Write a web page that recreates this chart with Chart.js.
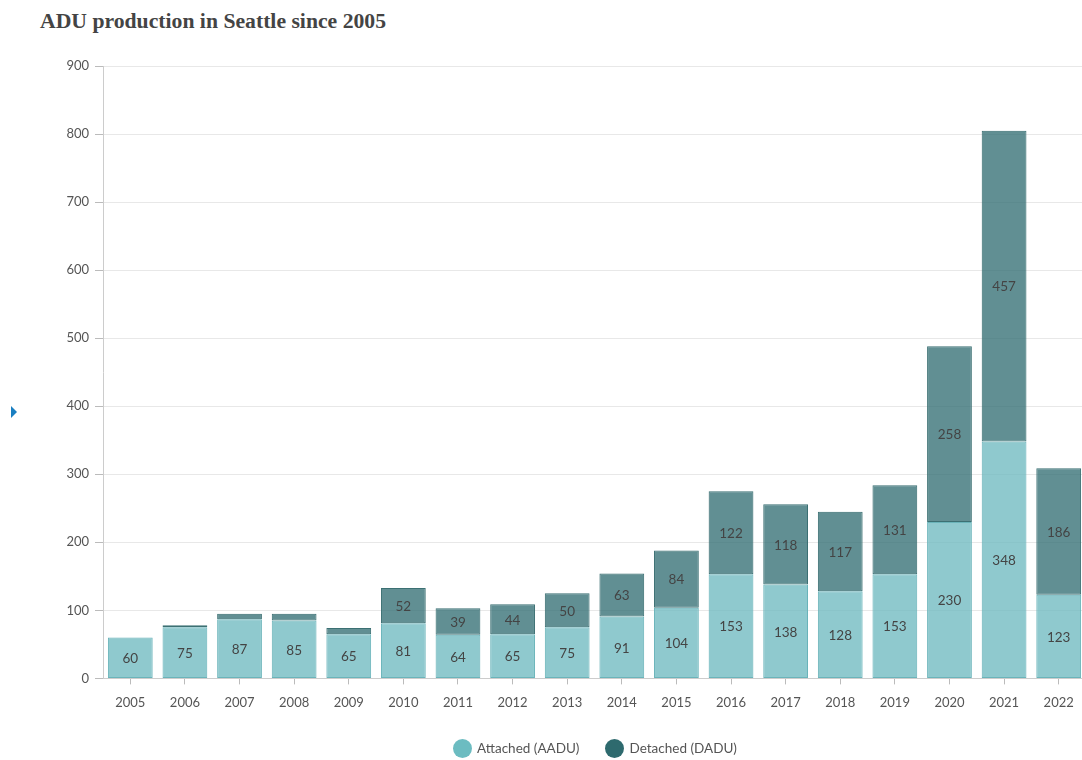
<!DOCTYPE html>
<html>
<head>
<meta charset="utf-8">
<script src="https://cdn.jsdelivr.net/npm/chart.js@4"></script>
<style>
  html, body { margin: 0; padding: 0; background: #fff; overflow: hidden; }
  #title {
    position: absolute; left: 40px; top: 9px;
    font-family: "Liberation Serif", "DejaVu Serif", serif;
    font-weight: bold; font-size: 21.7px; color: #444;
  }
  #marker {
    position: absolute; left: 11px; top: 406px;
    width: 0; height: 0;
    border-top: 6px solid transparent; border-bottom: 6px solid transparent;
    border-left: 6px solid #1a7fc1;
  }
  #wrap { position: absolute; left: 0; top: 48px; width: 1086px; height: 712px; }
  #legend {
    position: absolute; left: 453px; top: 740px;
    font-family: Lato, "Noto Sans", sans-serif; font-size: 13.5px; color: #555;
    white-space: nowrap;
  }
  #legend span.item { display: inline-block; margin-right: 26px; }
  #legend i {
    display: inline-block; width: 19px; height: 19px; border-radius: 50%;
    vertical-align: middle; margin-right: 5px; position: relative; top: -1px;
  }
</style>
</head>
<body>
<div id="title">ADU production in Seattle since 2005</div>
<div id="marker"></div>
<div id="wrap"><canvas id="chart"></canvas></div>
<div id="legend"></div>
<script>
// Chart data
var years = ['2005', '2006', '2007', '2008', '2009', '2010', '2011', '2012', '2013',
  '2014', '2015', '2016', '2017', '2018', '2019', '2020', '2021', '2022'];
var attached = [60, 75, 87, 85, 65, 81, 64, 65, 75, 91, 104, 153, 138, 128, 153, 230, 348, 123];
var detached = [0, 3, 8, 10, 9, 52, 39, 44, 50, 63, 84, 122, 118, 117, 131, 258, 457, 186];
var yTicks = [0, 100, 200, 300, 400, 500, 600, 700, 800, 900];
var seriesNames = ['Attached (AADU)', 'Detached (DADU)'];
var legendColors = ['#6cbcc1', '#2e6a6e'];

var fontFamily = 'Lato, "Noto Sans", sans-serif';

// Draws the value in the middle of each bar segment
var valueLabels = {
  id: 'valueLabels',
  afterDatasetsDraw: function (chart) {
    var ctx = chart.ctx;
    ctx.save();
    ctx.font = '13.5px ' + fontFamily;
    ctx.fillStyle = '#444';
    ctx.textAlign = 'center';
    ctx.textBaseline = 'middle';
    chart.data.datasets.forEach(function (ds, i) {
      var meta = chart.getDatasetMeta(i);
      meta.data.forEach(function (bar, j) {
        var v = ds.data[j];
        if (v < 20) return;
        ctx.fillText(v, bar.x, (bar.y + bar.base) / 2 + 1);
      });
    });
    ctx.restore();
  }
};

// Legend as plain html so it can sit under the plot area
var legendBox = document.getElementById('legend');
seriesNames.forEach(function (name, i) {
  var item = document.createElement('span');
  item.className = 'item';
  item.innerHTML = '<i style="background:' + legendColors[i] + '"></i>' + name;
  legendBox.appendChild(item);
});

var ctx = document.getElementById('chart').getContext('2d');
new Chart(ctx, {
  type: 'bar',
  data: {
    labels: years,
    datasets: [
      {
        label: seriesNames[0],
        data: attached,
        backgroundColor: 'rgba(112, 186, 192, 0.78)',
        borderColor: '#6ab4ba',
        borderWidth: 1,
        borderSkipped: false
      },
      {
        label: seriesNames[1],
        data: detached,
        backgroundColor: 'rgba(52, 112, 116, 0.78)',
        borderColor: '#3c7073',
        borderWidth: 1,
        borderSkipped: false
      }
    ]
  },
  options: {
    responsive: true,
    maintainAspectRatio: false,
    animation: false,
    categoryPercentage: 0.82,
    barPercentage: 1,
    layout: { padding: { left: 10, right: 0, top: 18, bottom: 38 } },
    scales: {
      x: {
        stacked: true,
        grid: { drawOnChartArea: false, offset: false, tickLength: 6, color: '#bbb' },
        border: { color: '#ccc' },
        ticks: { color: '#555', font: { family: fontFamily, size: 13 }, padding: 11 }
      },
      y: {
        stacked: true,
        min: 0,
        max: 900,
        afterBuildTicks: function (axis) {
          axis.ticks = yTicks.map(function (v) { return { value: v }; });
        },
        afterFit: function (axis) { axis.width = 93; },
        grid: { color: '#e8e8e8', tickLength: 8, tickColor: '#bbb' },
        border: { color: '#ccc' },
        ticks: { color: '#555', font: { family: fontFamily, size: 13 }, padding: 6 }
      }
    },
    plugins: {
      legend: { display: false },
      tooltip: { enabled: false }
    }
  },
  plugins: [valueLabels]
});
</script>
</body>
</html>
